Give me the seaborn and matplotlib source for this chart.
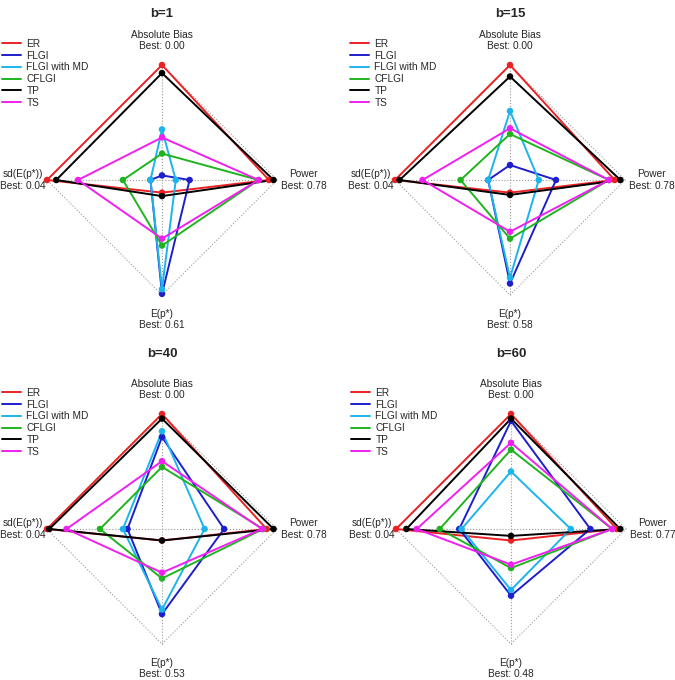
import pandas as pd
import seaborn as sns
import matplotlib
matplotlib.use("Agg")
import matplotlib.pyplot as plt

sns.set_style("white")
plt.rcParams['font.family'] = ['Liberation Sans', 'DejaVu Sans']

# methods and colours
methods = ["ER", "FLGI", "FLGI with MD", "CFLGI", "TP", "TS"]
colors = ["#EC2124", "#1E1ECC", "#1CB4EC", "#1FB41F", "#000000", "#F020F0"]

# radar axes: top, right, bottom, left
axis_names = ["Absolute Bias", "Power", "E(p*)", "sd(E(p*))"]
dir_x = [0, 1, 0, -1]
dir_y = [1, 0, -1, 0]

panel_titles = ["b=1", "b=15", "b=40", "b=60"]
best_bias = ["0.00", "0.00", "0.00", "0.00"]
best_power = ["0.78", "0.78", "0.78", "0.77"]
best_ep = ["0.61", "0.58", "0.53", "0.48"]
best_sd = ["0.04", "0.04", "0.04", "0.04"]

# scaled scores (0 = centre, 1 = outer ring), one row per method
# order within a row: Absolute Bias, Power, E(p*), sd(E(p*))
b1_scores = [
    [1.00, 0.93, 0.11, 1.00],
    [0.04, 0.24, 0.99, 0.10],
    [0.44, 0.12, 0.95, 0.10],
    [0.23, 0.84, 0.57, 0.34],
    [0.93, 0.97, 0.14, 0.92],
    [0.37, 0.84, 0.51, 0.73],
]
b15_scores = [
    [1.00, 0.91, 0.11, 1.00],
    [0.13, 0.40, 0.90, 0.19],
    [0.60, 0.25, 0.85, 0.19],
    [0.40, 0.86, 0.51, 0.43],
    [0.90, 0.96, 0.13, 0.96],
    [0.45, 0.86, 0.45, 0.76],
]
b40_scores = [
    [1.00, 0.91, 0.10, 1.00],
    [0.80, 0.54, 0.74, 0.30],
    [0.85, 0.37, 0.70, 0.34],
    [0.54, 0.88, 0.43, 0.54],
    [0.96, 0.97, 0.10, 0.98],
    [0.59, 0.87, 0.38, 0.83],
]
b60_scores = [
    [1.00, 0.92, 0.10, 1.00],
    [0.94, 0.69, 0.58, 0.45],
    [0.50, 0.52, 0.53, 0.43],
    [0.69, 0.88, 0.34, 0.62],
    [0.96, 0.95, 0.06, 0.91],
    [0.75, 0.88, 0.31, 0.82],
]
all_scores = [b1_scores, b15_scores, b40_scores, b60_scores]

# panel centres in pixels (from top-left), title rows and radius
centres = [(162, 180), (510, 180), (162, 529), (511, 529)]
title_rows = [14, 14, 354, 354]
R = 115
W, H = 675, 680
lim = 1.6

palette = dict(zip(methods, colors))

fig = plt.figure(figsize=(W / 100, H / 100), dpi=100)

for i, scores in enumerate(all_scores):
    cx, cy = centres[i]
    ax = fig.add_axes([(cx - lim * R) / W, 1 - (cy + lim * R) / H,
                       2 * lim * R / W, 2 * lim * R / H])
    ax.patch.set_alpha(0)

    # build polygon rows (closed) for each method
    rows = []
    for m, vals in zip(methods, scores):
        for k in list(range(4)) + [0]:
            rows.append({"method": m, "x": vals[k] * dir_x[k], "y": vals[k] * dir_y[k], "k": k})
    df = pd.DataFrame(rows)

    # background frame: outer diamond and axis lines, dotted
    ax.plot([0, 1, 0, -1, 0], [1, 0, -1, 0, 1], ls=":", color="#9a9a9a", lw=0.8, zorder=0)
    ax.plot([0, 0], [-1, 1], ls=":", color="#9a9a9a", lw=0.8, zorder=0)
    ax.plot([-1, 1], [0, 0], ls=":", color="#9a9a9a", lw=0.8, zorder=0)

    sns.lineplot(data=df, x="x", y="y", hue="method", hue_order=methods, palette=palette,
                 sort=False, estimator=None, lw=1.4, ax=ax)
    pts = df.drop_duplicates(subset=["method", "k"])
    sns.scatterplot(data=pts, x="x", y="y", hue="method", hue_order=methods, palette=palette,
                    s=22, linewidth=0, legend=False, ax=ax, zorder=3)

    ax.set_xlim(-lim, lim)
    ax.set_ylim(-lim, lim)
    ax.set_axis_off()

    fs = 7.3
    ax.text(0, 1.12, f"{axis_names[0]}\nBest: {best_bias[i]}", ha="center", va="bottom",
            fontsize=fs, linespacing=1.2)
    ax.text(1.23, 0, f"{axis_names[1]}\nBest: {best_power[i]}", ha="center", va="center",
            fontsize=fs, linespacing=1.2)
    ax.text(0, -1.12, f"{axis_names[2]}\nBest: {best_ep[i]}", ha="center", va="top",
            fontsize=fs, linespacing=1.2)
    ax.text(-1.21, 0, f"{axis_names[3]}\nBest: {best_sd[i]}", ha="center", va="center",
            fontsize=fs, linespacing=1.2)

    fig.text(cx / W, 1 - title_rows[i] / H, panel_titles[i], ha="center", va="center",
             fontsize=9.5, fontweight="bold")

    sns.move_legend(ax, "upper left", bbox_to_anchor=((cx - 160) / W, 1 - (cy - 141) / H),
                    bbox_transform=fig.transFigure, title=None, frameon=False, fontsize=fs,
                    handlelength=1.9, handletextpad=0.5, labelspacing=0.17, borderpad=0,
                    borderaxespad=0)

fig.savefig("out.png", dpi=100)
